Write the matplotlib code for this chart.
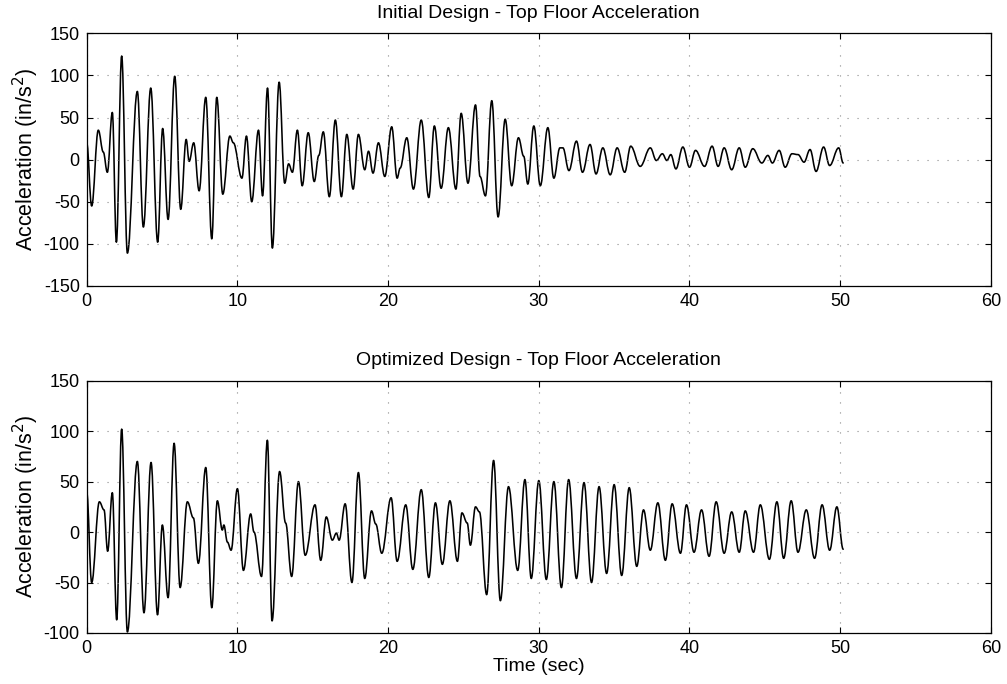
import matplotlib
matplotlib.use("Agg")
import matplotlib.pyplot as plt
from matplotlib.path import Path
from matplotlib.patches import PathPatch

plt.rcParams['font.family'] = ['Liberation Sans', 'DejaVu Sans']
plt.rcParams['axes.unicode_minus'] = False

# ---- data: extrema (time s, acceleration in/s^2) ----
init_t = [0.0, 0.33, 0.77, 1.1, 1.37, 1.7, 1.97, 2.32, 2.7, 3.36, 3.76, 4.25, 4.71, 5.04, 5.4,
          5.84, 6.24, 6.6, 6.8, 7.1, 7.46, 7.9, 8.3, 8.63, 9.03, 9.5, 9.73, 10.3, 10.6, 10.95,
          11.4, 11.67, 12.0, 12.32, 12.77, 13.14, 13.4, 13.65, 13.98, 14.3, 14.7, 15.1, 15.4,
          15.7, 16.1, 16.5, 16.9, 17.26, 17.68, 18.03, 18.45, 18.7, 19.0, 19.36, 19.78, 20.24,
          20.6, 20.8, 21.24, 21.68, 22.2, 22.7, 23.07, 23.52, 24.0, 24.5, 24.85, 25.3, 25.8,
          26.1, 26.46, 26.88, 27.3, 27.77, 28.2, 28.65, 29.0, 29.27, 29.67, 30.1, 30.6, 31.0,
          31.4, 31.6, 32.0, 32.5, 32.9, 33.4, 33.8, 34.25, 34.74, 35.2, 35.7, 36.1, 36.73, 37.4,
          37.8, 38.2, 38.5, 38.76, 39.1, 39.56, 40.0, 40.4, 41.0, 41.5, 41.9, 42.3, 42.8, 43.3,
          43.7, 44.2, 44.8, 45.2, 45.5, 45.95, 46.35, 46.8, 47.2, 47.6, 48.0, 48.4, 48.9, 49.3,
          49.9, 50.2]
init_a = [20, -55, 35, 9, -15, 56, -98, 123, -111, 81, -80, 85, -98, 37, -71,
          99, -59, 24, -2, 20, -37, 74, -94, 74, -41, 28, 20, -22, 28, -50,
          35, -43, 85, -105, 92, -28, -5, -15, 35, -31, 32, -26, 5,
          33, -44, 47, -44, 30, -35, 30, -12, 10, -16, 20, -20, 39,
          -22, -10, 26, -35, 47, -45, 40, -34, 38, -35, 55, -28, 65,
          -20, -43, 70, -68, 48, -31, 26, 4, -29, 40, -31, 38, -22,
          14, 14, -13, 22, -15, 18, -17, 14, -18, 14, -15, 16, -8, 14,
          -1, 7, -1, 6, -11, 15, -9, 11, -8, 16, -8, 14, -12, 14,
          -9, 13, -4, 5, -4, 11, -9, 7, 6, -3, 12, -14, 15, -7,
          14, -4]

opt_t = [0.0, 0.33, 0.84, 1.15, 1.39, 1.7, 1.99, 2.32, 2.7, 3.36, 3.8, 4.27, 4.7, 5.02, 5.4,
         5.8, 6.2, 6.68, 7.08, 7.41, 7.9, 8.3, 8.67, 9.0, 9.1, 9.34, 9.58, 10.0, 10.4, 10.88,
         11.1, 11.6, 11.99, 12.3, 12.8, 13.2, 13.6, 14.05, 14.5, 15.15, 15.53, 15.9, 16.3,
         16.57, 16.75, 17.15, 17.6, 18.03, 18.45, 18.9, 19.18, 19.58, 20.2, 20.6, 21.17,
         21.64, 22.2, 22.7, 23.14, 23.6, 24.1, 24.6, 24.9, 25.25, 25.46, 25.8, 26.06, 26.54,
         27.0, 27.45, 27.99, 28.6, 29.08, 29.5, 30.0, 30.5, 31.0, 31.5, 31.98, 32.5, 33.0,
         33.5, 34.0, 34.5, 35.0, 35.5, 36.0, 36.5, 36.95, 37.4, 37.9, 38.4, 38.85, 39.4, 39.8,
         40.3, 40.8, 41.3, 41.77, 42.3, 42.8, 43.3, 43.7, 44.25, 44.7, 45.3, 45.8, 46.25,
         46.75, 47.2, 47.75, 48.3, 48.8, 49.3, 49.78, 50.2]
opt_a = [40, -50, 30, 22, -19, 39, -87, 102, -99, 70, -80, 69, -82, 7, -65,
         88, -55, 30, 14, -31, 64, -75, 31, 2, 7, -10, -18, 43, -38, 18,
         0, -44, 91, -88, 60, 9, -44, 50, -23, 27, -28, 15, -8,
         -1, -8, 28, -50, 59, -46, 21, 8, -21, 34, -29, 27,
         -37, 42, -45, 29, -32, 31, -29, 19, 9, -13, 25, 20, -62,
         71, -68, 45, -38, 52, -46, 51, -47, 50, -55, 52, -46, 49,
         -50, 45, -41, 47, -43, 44, -34, 22, -18, 29, -28, 28, -21, 27,
         -20, 22, -24, 30, -21, 20, -20, 21, -20, 27, -27, 30, -26,
         31, -20, 22, -26, 27, -18, 25, -17]

titles = ["Initial Design - Top Floor Acceleration",
          "Optimized Design - Top Floor Acceleration"]
ylabel = "Acceleration (in/s$^2$)"
xlabel = "Time (sec)"
xticks = [0, 10, 20, 30, 40, 50, 60]
yticks_top = [-150, -100, -50, 0, 50, 100, 150]
yticks_bot = [-100, -50, 0, 50, 100, 150]

fig = plt.figure(figsize=(10.07, 6.84), dpi=100)
ax1 = fig.add_axes([0.0861, 0.5819, 0.8979, 0.3694])
ax2 = fig.add_axes([0.0861, 0.0746, 0.8979, 0.3688])


def draw_signal(ax, t, a):
    """Trace the signal through its read-off extrema as a smooth path
    (horizontal tangent at each extremum), in data coordinates."""
    verts = [(t[0], a[0])]
    codes = [Path.MOVETO]
    k = 0.38
    for i in range(len(t) - 1):
        dt = t[i + 1] - t[i]
        verts += [(t[i] + k * dt, a[i]), (t[i + 1] - k * dt, a[i + 1]), (t[i + 1], a[i + 1])]
        codes += [Path.CURVE4] * 3
    ax.add_patch(PathPatch(Path(verts, codes), facecolor='none', edgecolor='black',
                           linewidth=1.15, capstyle='round', joinstyle='round'))


def style(ax, yt, title):
    ax.set_xlim(0, 60)
    ax.set_ylim(yt[0], yt[-1])
    ax.set_xticks(xticks)
    ax.set_yticks(yt)
    ax.tick_params(direction='in', top=True, right=True, length=4.5, width=0.8,
                   labelsize=13, pad=5)
    ax.grid(True, color='#8a8a8a', linestyle=(0, (1, 8)), linewidth=0.8)
    for s in ax.spines.values():
        s.set_linewidth(0.9)
    ax.set_title(title, fontsize=14, pad=11)
    ax.set_ylabel(ylabel, fontsize=15.5, labelpad=2)


draw_signal(ax1, init_t, init_a)
style(ax1, yticks_top, titles[0])
draw_signal(ax2, opt_t, opt_a)
style(ax2, yticks_bot, titles[1])
ax2.set_xlabel(xlabel, fontsize=14, labelpad=1)

fig.savefig("out.png", dpi=100)
